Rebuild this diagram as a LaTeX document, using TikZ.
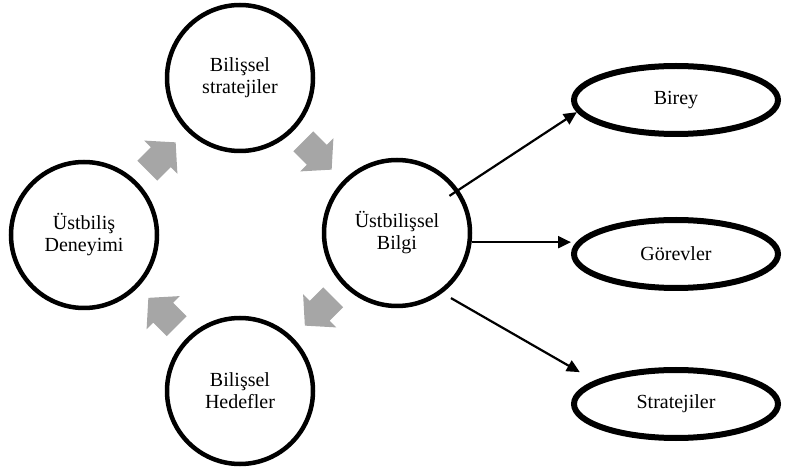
\documentclass[tikz,border=0pt]{standalone}
\usepackage{fontspec}
\setmainfont{Liberation Serif}
\usetikzlibrary{arrows.meta, shapes.geometric}
\definecolor{inkcol}{RGB}{0,0,0}
\definecolor{flowcol}{RGB}{166,166,166}
\tikzset{
  flowarrow/.pic={
    \fill[flowcol]
      (-20,-14) -- (-1,-14) -- (-1,-23.5) -- (20,0) -- (-1,23.5)
      -- (-1,14) -- (-20,14) -- cycle;
  },
  phase/.style={draw=inkcol, circle, line width=4.5pt, minimum size=146pt,
    inner sep=0pt, align=center},
  topic/.style={draw=inkcol, ellipse, line width=6pt, minimum width=204pt,
    minimum height=68pt, inner sep=0pt},
  link/.style={inkcol, line width=2.2pt, -{Triangle[length=13pt,width=12pt]}}
}

\begin{document}
\begin{tikzpicture}[
    x=1pt, y=-1pt,
    font=\fontsize{20}{22}\selectfont
  ]
  \useasboundingbox (0,0) rectangle (785,470);

  % --- the four stages of the cycle ----------------------------------------
  \node[phase] (strat) at (240,78)  {Bilişsel\\stratejiler};
  \node[phase] (deney) at (84,235)  {Üstbiliş\\Deneyimi};
  \node[phase] (bilgi) at (397,233) {Üstbilişsel\\Bilgi};
  \node[phase] (hedef) at (240,391) {Bilişsel\\Hedefler};

  % --- grey block arrows between the stages --------------------------------
  \pic[rotate=45]   at (161.5,156.5) {flowarrow};
  \pic[rotate=-45]  at (317.5,155.5) {flowarrow};
  \pic[rotate=-135] at (319,311.5)   {flowarrow};
  \pic[rotate=135]  at (162.5,312)   {flowarrow};

  % --- components of metacognitive knowledge -------------------------------
  \node[topic] (birey)  at (676,100) {Birey};
  \node[topic] (gorev)  at (676,254) {Görevler};
  \node[topic] (stratj) at (676,404) {Stratejiler};

  \draw[link, shorten <=-11pt] (bilgi.35) -- (birey.187);
  \draw[link] (bilgi.-7) -- (bilgi.-7 -| gorev.west);
  \draw[link, shorten <=10pt, shorten >=17pt] (bilgi.-53) -- (stratj.164);

\end{tikzpicture}
\end{document}
